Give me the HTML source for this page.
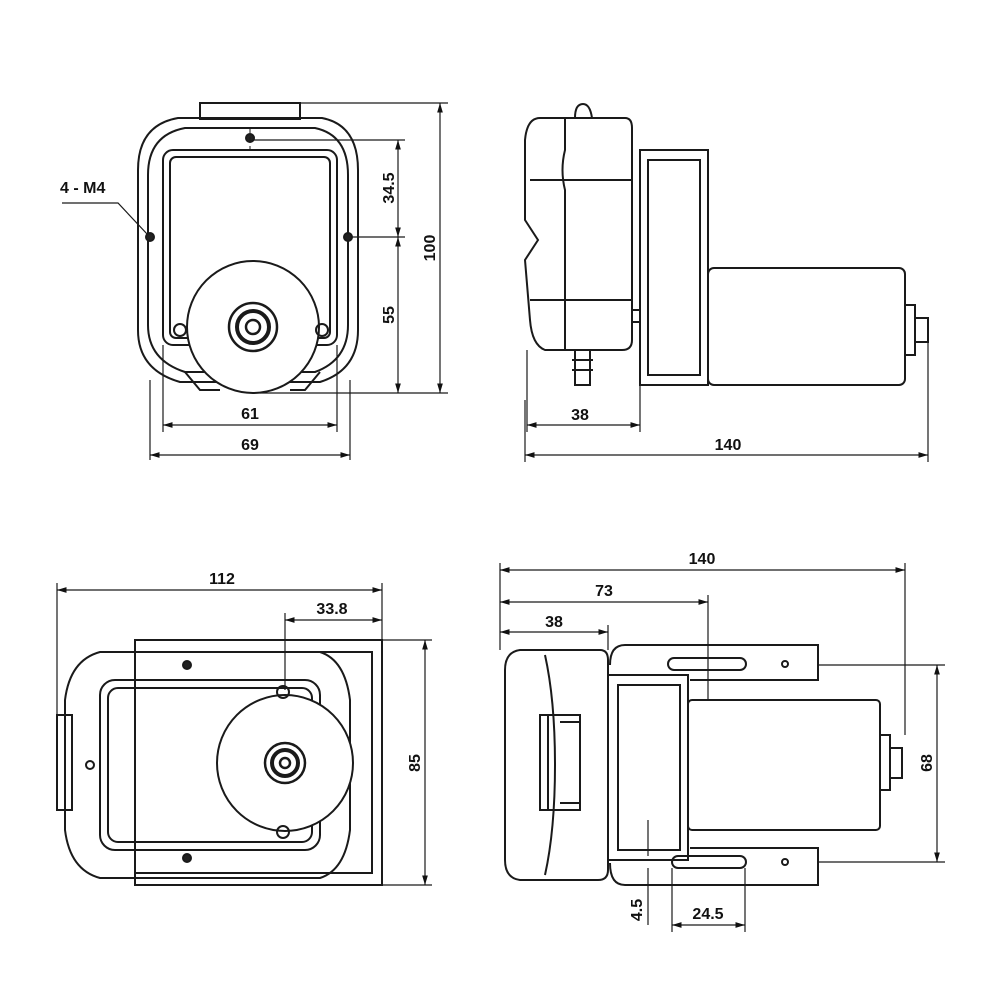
<!DOCTYPE html>
<html><head><meta charset="utf-8"><style>
html,body{margin:0;padding:0;background:#fff}
svg{display:block}
text{font-family:"Liberation Sans",sans-serif;font-size:16px;fill:#111;font-weight:bold}
</style></head><body>
<svg width="1000" height="1000" viewBox="0 0 1000 1000" xmlns="http://www.w3.org/2000/svg">
<defs>
<marker id="a" viewBox="0 0 10 10" refX="10" refY="5" markerWidth="8" markerHeight="8" orient="auto-start-reverse"><path d="M0,2 L10,5 L0,8 z" fill="#111"/></marker>
</defs>
<g fill="none" stroke="#1a1a1a" stroke-width="2">
<rect x="200" y="103" width="100" height="16"/>
<path d="M178,118 H322 Q358,125 358,170 V330 Q358,370 320,382 H180 Q138,370 138,330 V170 Q138,125 178,118 Z"/>
<path d="M185,128 H315 Q348,135 348,175 V325 Q348,360 315,372 H185 Q148,360 148,325 V175 Q148,135 185,128 Z"/>
<rect x="163" y="150" width="174" height="195" rx="10"/>
<rect x="170" y="157" width="160" height="181" rx="6"/>
<circle cx="253" cy="327" r="66" fill="#fff"/>
<circle cx="253" cy="327" r="24" stroke-width="2.5"/>
<circle cx="253" cy="327" r="16" stroke-width="4"/>
<circle cx="253" cy="327" r="7" stroke-width="2.5"/>
<circle cx="180" cy="330" r="6"/><circle cx="322" cy="330" r="6"/>
<path d="M185,372 L200,390 H220 M290,390 H305 L320,372"/>
<circle cx="150" cy="237" r="4" fill="#222"/><circle cx="348" cy="237" r="4" fill="#222"/><circle cx="250" cy="138" r="4" fill="#222"/>
<path d="M250,128 V150" stroke-dasharray="6,3" stroke-width="1"/>
<g stroke-width="1.2">
<path d="M300,103 H448 M253,140 H405 M352,237 H405 M260,393 H448"/>
<path d="M440,103 V393" marker-start="url(#a)" marker-end="url(#a)"/>
<path d="M398,140 V237" marker-start="url(#a)" marker-end="url(#a)"/>
<path d="M398,237 V393" marker-start="url(#a)" marker-end="url(#a)"/>
<path d="M163,345 V432 M337,345 V432 M150,380 V460 M350,380 V460"/>
<path d="M163,425 H337" marker-start="url(#a)" marker-end="url(#a)"/>
<path d="M150,455 H350" marker-start="url(#a)" marker-end="url(#a)"/>
<path d="M62,203 H118 L148,235"/>
</g>
<path d="M540,118 H625 Q632,118 632,128 V340 Q632,350 622,350 H545 Q532,345 530,320 L525,260 L538,240 L525,220 V140 Q527,118 540,118 Z"/>
<path d="M565,118 L565,150 Q560,170 565,190 V350"/>
<path d="M530,180 H632 M530,300 H632"/>
<path d="M575,118 Q575,104 583,104 Q590,104 592,118"/>
<rect x="640" y="150" width="68" height="235"/>
<rect x="648" y="160" width="52" height="215"/>
<rect x="708" y="268" width="197" height="117" rx="6"/>
<path d="M905,305 H915 V355 H905 M915,318 H928 V342 H915"/>
<path d="M575,350 V385 H590 V350 M572,360 H593 M572,370 H593"/>
<path d="M632,310 H640 M632,322 H640"/>
<g stroke-width="1.2">
<path d="M527,350 V432 M640,385 V432 M928,342 V462 M525,400 V462"/>
<path d="M527,425 H640" marker-start="url(#a)" marker-end="url(#a)"/>
<path d="M525,455 H928" marker-start="url(#a)" marker-end="url(#a)"/>
</g>
<rect x="135" y="640" width="247" height="245"/>
<path d="M135,652 H372 V873 H135"/>
<path d="M100,652 H320 Q345,660 350,700 V830 Q345,870 320,878 H100 Q70,870 65,830 V700 Q70,660 100,652 Z"/>
<rect x="100" y="680" width="220" height="170" rx="15"/>
<rect x="108" y="688" width="204" height="154" rx="10"/>
<rect x="57" y="715" width="15" height="95"/>
<circle cx="285" cy="763" r="68" fill="#fff"/>
<circle cx="285" cy="763" r="20" stroke-width="2.5"/>
<circle cx="285" cy="763" r="13" stroke-width="4"/>
<circle cx="285" cy="763" r="5" stroke-width="2.5"/>
<circle cx="283" cy="692" r="6"/><circle cx="283" cy="832" r="6"/>
<circle cx="187" cy="665" r="4" fill="#222"/><circle cx="187" cy="858" r="4" fill="#222"/><circle cx="90" cy="765" r="4"/>
<g stroke-width="1.2">
<path d="M57,715 V583 M382,640 V583 M285,690 V613"/>
<path d="M57,590 H382" marker-start="url(#a)" marker-end="url(#a)"/>
<path d="M285,620 H382" marker-start="url(#a)" marker-end="url(#a)"/>
<path d="M382,640 H432 M382,885 H432"/>
<path d="M425,640 V885" marker-start="url(#a)" marker-end="url(#a)"/>
</g>
<path d="M520,650 H600 Q608,650 608,660 V870 Q608,880 598,880 H520 Q505,878 505,860 V670 Q505,652 520,650 Z"/>
<path d="M545,655 Q555,700 555,765 Q555,830 545,875"/>
<rect x="540" y="715" width="40" height="95"/>
<path d="M548,715 V810 M560,722 H580 M560,803 H580"/>
<path d="M610,665 Q610,645 625,645 H818 V680 H690 M610,863 Q610,885 625,885 H818 V848 H690"/>
<rect x="608" y="675" width="80" height="185"/>
<rect x="618" y="685" width="62" height="165"/>
<rect x="688" y="700" width="192" height="130" rx="4"/>
<path d="M880,735 H890 V790 H880 M890,748 H902 V778 H890"/>
<rect x="668" y="658" width="78" height="12" rx="6"/>
<rect x="672" y="856" width="74" height="12" rx="6"/>
<circle cx="785" cy="664" r="3"/><circle cx="785" cy="862" r="3"/>
<g stroke-width="1.2">
<path d="M500,650 V563 M905,735 V563 M708,700 V595 M608,650 V625"/>
<path d="M500,570 H905" marker-start="url(#a)" marker-end="url(#a)"/>
<path d="M500,602 H708" marker-start="url(#a)" marker-end="url(#a)"/>
<path d="M500,632 H608" marker-start="url(#a)" marker-end="url(#a)"/>
<path d="M818,665 H945 M818,862 H945"/>
<path d="M937,665 V862" marker-start="url(#a)" marker-end="url(#a)"/>
<path d="M648,820 V856 M648,868 V925"/>
<path d="M672,868 V932 M745,868 V932"/>
<path d="M672,925 H745" marker-start="url(#a)" marker-end="url(#a)"/>
</g>
</g>
<text x="60" y="193">4 - M4</text>
<text x="250" y="419" text-anchor="middle">61</text>
<text x="250" y="450" text-anchor="middle">69</text>
<text transform="translate(435,248) rotate(-90)" text-anchor="middle">100</text>
<text transform="translate(394,188) rotate(-90)" text-anchor="middle">34.5</text>
<text transform="translate(394,315) rotate(-90)" text-anchor="middle">55</text>
<text x="580" y="420" text-anchor="middle">38</text>
<text x="728" y="450" text-anchor="middle">140</text>
<text x="222" y="584" text-anchor="middle">112</text>
<text x="332" y="614" text-anchor="middle">33.8</text>
<text transform="translate(420,763) rotate(-90)" text-anchor="middle">85</text>
<text x="702" y="564" text-anchor="middle">140</text>
<text x="604" y="596" text-anchor="middle">73</text>
<text x="554" y="627" text-anchor="middle">38</text>
<text transform="translate(932,763) rotate(-90)" text-anchor="middle">68</text>
<text transform="translate(642,910) rotate(-90)" text-anchor="middle">4.5</text>
<text x="708" y="919" text-anchor="middle">24.5</text>
</svg>
</body></html>
